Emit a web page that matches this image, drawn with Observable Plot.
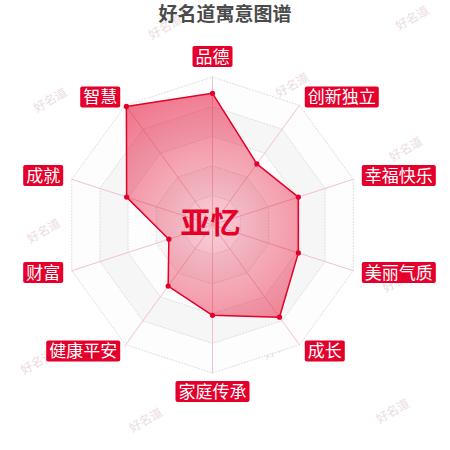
<!DOCTYPE html>
<html><head><meta charset="utf-8">
<script src="https://cdn.jsdelivr.net/npm/d3@7"></script>
<script src="https://cdn.jsdelivr.net/npm/@observablehq/plot@0.6"></script>
<style>
html,body{margin:0;padding:0;background:#fff;}
#wrap{position:relative;width:450px;height:450px;overflow:hidden;}
#title{position:absolute;top:2px;left:0;width:450px;text-align:center;font-family:"Noto Sans CJK SC",sans-serif;font-weight:bold;font-size:19px;color:#4a4a4a;line-height:22px;}
</style></head><body>
<div id="wrap"><div id="chart"></div><div id="title"></div></div>
<script>
// ---- data ----
const titleText = "好名道寓意图谱";
const nameText = "亚忆";
const watermarkText = "好名道";
const categories = ["品德","创新独立","幸福快乐","美丽气质","成长","家庭传承","健康平安","财富","成就","智慧"];
const values = [89, 51, 61, 61, 77, 61, 51, 31, 61, 99];
const maxValue = 100;
const levels = [0.2, 0.4, 0.6, 0.8, 1.0];

// ---- layout helpers ----
const W = 450, H = 450;
const xDomain = [-212/148, 238/148];
const yDomain = [(224.5-450)/148, 224.5/148];
const RED = "#e4002b";
const FONT = "'Noto Sans CJK SC', sans-serif";

const n = categories.length;
const angle = i => 2*Math.PI*i/n;
const polar = (i, r) => ({x: r*Math.sin(angle(i)), y: r*Math.cos(angle(i))});

const series = categories.map((c,i)=>({category:c, value:values[i], ...polar(i, values[i]/maxValue)}));
const rings = levels.flatMap(l => categories.map((c,i)=>({level:l, ...polar(i,l)})));
const spokes = categories.flatMap((c,i)=>[{category:c, ...polar(i,0)}, {category:c, ...polar(i,1)}]);
const labelR = 157/148;
const labels = categories.map((c,i)=>{
  const s = Math.sin(angle(i)), co = Math.cos(angle(i));
  const side = Math.abs(s) < 1e-6 ? (co > 0 ? "top" : "bottom") : (s > 0 ? "right" : "left");
  return {category:c, side, ...polar(i, labelR)};
});

// watermark lattice (decoration)
const wmCols = [50, 165, 292, 412];
const wmStart = [100, 27, 85, 18];
const watermarks = [];
wmCols.forEach((cx, k) => {
  for (let py = wmStart[k]; py < H + 10; py += 131) {
    const px = cx - 0.05*(py - wmStart[k]);
    watermarks.push({
      x: xDomain[0] + px/W*(xDomain[1]-xDomain[0]),
      y: yDomain[1] - py/H*(yDomain[1]-yDomain[0]),
      text: watermarkText
    });
  }
});

const bandFill = l => (Math.round(l/0.2) % 2 === 0) ? "#f6f6f6" : "#fdfdfd";

const gradientMark = (index, scales) => {
  const cx = scales.x(0), cy = scales.y(0), r = scales.x(1) - scales.x(0);
  const defs = d3.create("svg:defs");
  const g = defs.append("radialGradient").attr("id","radarFill")
    .attr("gradientUnits","userSpaceOnUse").attr("cx",cx).attr("cy",cy).attr("r",r);
  g.append("stop").attr("offset","0%").attr("stop-color",RED).attr("stop-opacity",0.18);
  g.append("stop").attr("offset","100%").attr("stop-color",RED).attr("stop-opacity",0.55);
  return defs.node();
};

const sideOpts = {
  right: {textAnchor:"start", dx: 3},
  left: {textAnchor:"end", dx: -3},
  top: {textAnchor:"middle", dy: -10.5},
  bottom: {textAnchor:"middle", dy: 10.5}
};

const chart = Plot.plot({
  width: W, height: H,
  margin: 0,
  x: {domain: xDomain, axis: null},
  y: {domain: yDomain, axis: null},
  style: {fontFamily: FONT, background: "transparent"},
  marks: [
    gradientMark,
    Plot.text(watermarks, {x:"x", y:"y", text:"text", rotate:-30, fill:"#ecdcde", fontSize:12, fontFamily:FONT}),
    ...levels.slice().reverse().map(l =>
      Plot.line(rings.filter(d => d.level === l), {x:"x", y:"y", curve:"linear-closed", fill: bandFill(l), stroke:"none"})),
    Plot.line(rings, {x:"x", y:"y", z:"level", curve:"linear-closed", stroke:"#dcdcdc", strokeWidth:1, strokeDasharray:"1,2"}),
    Plot.line(spokes, {x:"x", y:"y", z:"category", stroke:"#f0c3cc", strokeWidth:1}),
    Plot.line(series, {x:"x", y:"y", curve:"linear-closed", fill:"url(#radarFill)", stroke:RED, strokeWidth:1.5}),
    Plot.dot(series, {x:"x", y:"y", r:2.6, fill:RED, stroke:"none"}),
    ...Object.entries(sideOpts).map(([side, o]) =>
      Plot.text(labels.filter(d => d.side === side), {x:"x", y:"y", text:"category", fill:"white", fontSize:17, fontFamily:FONT, lineAnchor:"middle", ...o})),
    Plot.text([{x:0, y:0, name:nameText}], {x:"x", y:"y", text:"name", fill:RED, fontSize:30, fontWeight:"bold", fontFamily:FONT, dx:-2, dy:-2})
  ]
});

document.getElementById("chart").appendChild(chart);
document.getElementById("title").textContent = titleText;

// label background boxes (same coordinate system as each text)
const catSet = new Set(categories);
chart.querySelectorAll("text").forEach(t => {
  if (!catSet.has(t.textContent)) return;
  const bb = t.getBBox();
  const cy = bb.y + bb.height/2 + 1;
  const rect = document.createElementNS("http://www.w3.org/2000/svg","rect");
  rect.setAttribute("x", bb.x - 3);
  rect.setAttribute("y", cy - 10.5);
  rect.setAttribute("width", bb.width + 6);
  rect.setAttribute("height", 21);
  rect.setAttribute("rx", 2);
  rect.setAttribute("fill", RED);
  const tr = t.getAttribute("transform");
  if (tr) rect.setAttribute("transform", tr);
  t.parentNode.insertBefore(rect, t);
});
</script>
</body></html>
